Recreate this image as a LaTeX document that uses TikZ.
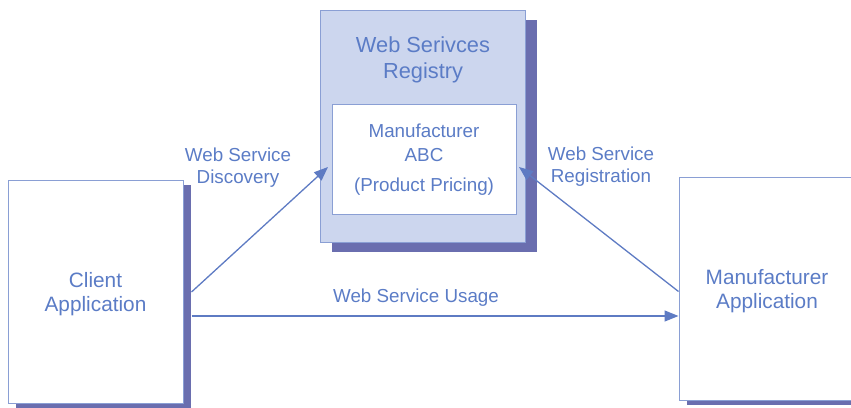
\documentclass[tikz,border=0pt]{standalone}
\usepackage{fontspec}
\setmainfont{Liberation Sans}
\usepackage{xcolor}
\usepackage{tikz}
\usetikzlibrary{arrows.meta,shadows}
\definecolor{WText}{HTML}{5B7CC6}
\definecolor{WEdge}{HTML}{8A9FD4}
\definecolor{WShade}{HTML}{6A6EAF}
\definecolor{WFill}{HTML}{CCD6EE}
\definecolor{WArrow}{HTML}{5E7BC3}

\begin{document}
\begin{tikzpicture}[
  x=1pt,y=-1pt,
  every node/.style={text=WText,align=center,inner sep=0pt},
  app/.style={draw=WEdge,fill=white,line width=1pt,text depth=-3pt,
    drop shadow={shadow xshift=8pt,shadow yshift=-5pt,fill=WShade,opacity=1},
    font=\fontsize{20.8}{24}\selectfont},
  registry/.style={draw=WEdge,fill=WFill,line width=1pt,
    minimum width=205pt,minimum height=232pt,
    drop shadow={shadow xshift=12pt,shadow yshift=-10pt,fill=WShade,opacity=1}},
  entry/.style={draw=WEdge,fill=white,line width=1pt,
    minimum width=184pt,minimum height=110pt,
    font=\fontsize{18.8}{24}\selectfont},
  lbl/.style={font=\fontsize{18.8}{22}\selectfont},
  arr/.style={-{Triangle[length=14pt,width=11pt]},line width=1.3pt,color=WArrow}
]
  \useasboundingbox (0,0) rectangle (851,407);

  \node[app,minimum width=175pt,minimum height=223pt] (client)
    at (95.5,291.5) {Client\\Application};
  \node[app,minimum width=176pt,minimum height=223pt] (manuf)
    at (767,288.5) {Manufacturer\\Application};

  \node[registry] (registry) at (422.5,126) {};
  \node[font=\fontsize{21.8}{26}\selectfont] (regtitle) at (423,60)
    {Web Serivces\\Registry};
  \node[entry] (entry) at (424,159.5)
    {Manufacturer\\ABC\\[6pt](Product Pricing)};

  \coordinate (disc) at (328,167);
  \coordinate (regin) at (519,167);
  \coordinate (usage) at (0,316);

  \draw[arr] ([xshift=8pt,yshift=-0.5pt]client.east) -- (disc);
  \draw[arr] ([yshift=-3pt]manuf.west) -- (regin);
  \draw[arr] ([xshift=8pt]client.east |- usage) -- (manuf.west |- usage);

  \node[lbl] (disclbl) at (238,167.5) {Web Service\\Discovery};
  \node[lbl] (reglbl) at (601,166.5) {Web Service\\Registration};
  \node[lbl] (uselbl) at (416,298) {Web Service Usage};
\end{tikzpicture}
\end{document}
